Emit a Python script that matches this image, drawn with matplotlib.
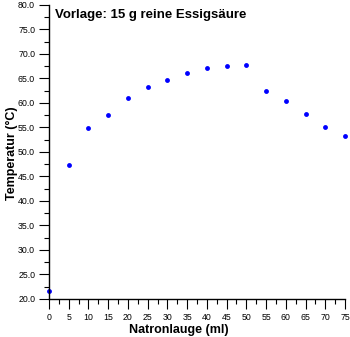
import matplotlib
matplotlib.use("Agg")
import matplotlib.pyplot as plt
from matplotlib.ticker import MultipleLocator, FormatStrFormatter

# Titration: sodium hydroxide added vs. temperature
volume_ml = [0, 5, 10, 15, 20, 25, 30, 35, 40, 45, 50, 55, 60, 65, 70, 75]
temperature_c = [21.6, 47.3, 54.8, 57.5, 61.1, 63.3, 64.6, 66.1, 67.1, 67.6,
                 67.7, 62.4, 60.5, 57.8, 55.1, 53.3]

plt.rcParams["font.family"] = ["Liberation Sans", "DejaVu Sans"]

fig = plt.figure(figsize=(3.5, 3.37), dpi=100)
ax = fig.add_axes([0.14, 0.1128, 0.8457, 0.8724])

ax.plot(volume_ml, temperature_c, "o", color="#0000ff", markersize=3.5,
        markeredgewidth=0, clip_on=False)

ax.set_xlim(0, 75)
ax.set_ylim(20, 80)
ax.xaxis.set_major_locator(MultipleLocator(5))
ax.xaxis.set_minor_locator(MultipleLocator(2.5))
ax.yaxis.set_major_locator(MultipleLocator(5))
ax.yaxis.set_minor_locator(MultipleLocator(2.5))
ax.yaxis.set_major_formatter(FormatStrFormatter("%.1f"))

for side in ("top", "right"):
    ax.spines[side].set_visible(False)
for side in ("left", "bottom"):
    ax.spines[side].set_linewidth(1.0)

ax.tick_params(which="major", direction="out", length=7, width=0.8,
               labelsize=6.3, pad=3)
ax.tick_params(which="minor", direction="out", length=3.6, width=0.8)

ax.text(0.02, 0.965, "Vorlage: 15 g reine Essigsäure", transform=ax.transAxes,
        fontsize=9.5, fontweight="bold", va="center", ha="left")

fig.text(0.51, 0.004, "Natronlauge (ml)", fontsize=9, fontweight="bold",
         ha="center", va="bottom")
fig.text(0.035, 0.545, "Temperatur (°C)", fontsize=9, fontweight="bold",
         rotation=90, ha="center", va="center")

fig.savefig("out.png", dpi=100)
